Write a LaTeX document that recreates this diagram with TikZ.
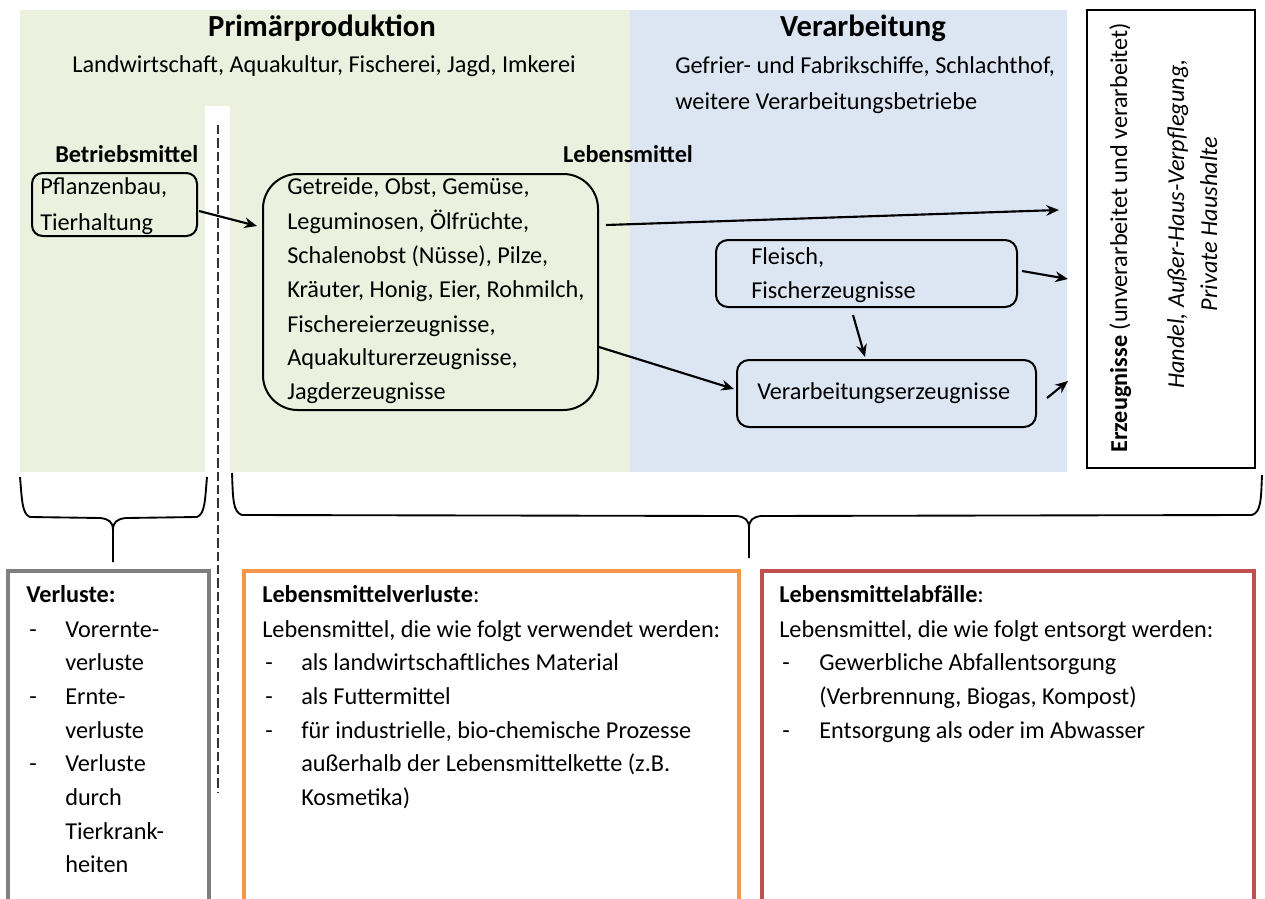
\documentclass[tikz,border=0pt]{standalone}
\usepackage{fontspec}
\setmainfont{Carlito}
\usetikzlibrary{arrows.meta,calc}
\definecolor{bggreen}{HTML}{EBF1DE}
\definecolor{bgblue}{HTML}{DCE6F2}
\definecolor{boxgray}{HTML}{7F7F7F}
\definecolor{boxorange}{HTML}{F79646}
\definecolor{boxred}{HTML}{C0504D}
\begin{document}
\begin{tikzpicture}[x=0.75pt,y=-0.75pt,
  txt/.style={anchor=base west, inner sep=0pt, font=\fontsize{18.2}{22}\selectfont},
  ctxt/.style={txt, anchor=base},
  btxt/.style={txt, font=\fontsize{18.2}{22}\selectfont\bfseries},
  head/.style={anchor=base, inner sep=0pt, font=\fontsize{23}{28}\selectfont\bfseries},
  rbox/.style={draw, line width=1.5pt, inner sep=0pt},
  arr/.style={-{Stealth[length=9.5pt,width=8pt]}, line width=1.6pt},
  brace/.style={line width=1.4pt},
  lossbox/.style={line width=2.6pt}]
\useasboundingbox (0,0) rectangle (1265,899);
% backgrounds
\fill[bggreen] (20,10) rectangle (630,472);
\fill[bgblue] (630,10) rectangle (1067,472);
\fill[white] (205,106) rectangle (230,472);
\draw[line width=0.8pt, black!80, dash pattern=on 7pt off 3pt] (218,125) -- (218,793);
% headings
\node[head] (pph) at (322,37) {Primärproduktion};
\node[ctxt] (ppt) at (324,73) {Landwirtschaft, Aquakultur, Fischerei, Jagd, Imkerei};
\node[head] (vah) at (863,37) {Verarbeitung};
\node[txt] (vat1) at (675,74) {Gefrier- und Fabrikschiffe, Schlachthof,};
\node[txt] (vat2) at (675,109) {weitere Verarbeitungsbetriebe};
\node[btxt] (bm) at (55,162) {Betriebsmittel};
\node[btxt, anchor=base] (lm) at (628,162) {Lebensmittel};
% boxes
\node[rbox, rounded corners=8pt, minimum width=123.75pt, minimum height=47.25pt] (pf) at (114.5,204.5) {};
\node[rbox, rounded corners=26pt, minimum width=251.25pt, minimum height=177pt] (big) at (430.5,292) {};
\node[rbox, rounded corners=9pt, minimum width=225.75pt, minimum height=50.25pt] (fl) at (866.5,273.5) {};
\node[rbox, rounded corners=9pt, minimum width=224.25pt, minimum height=50.25pt] (vb) at (886.5,393.5) {};
\node[draw, fill=white, line width=1.6pt, minimum width=126pt, minimum height=343.5pt, inner sep=0pt] (erz) at (1171,239) {};
% box texts
\node[txt] (pf1) at (40,195) {Pflanzenbau,};
\node[txt] (pf2) at (40,230) {Tierhaltung};
\node[txt] (bg1) at (287,195) {Getreide, Obst, Gemüse,};
\node[txt] (bg2) at (287,229) {Leguminosen, Ölfrüchte,};
\node[txt] (bg3) at (287,263) {Schalenobst (Nüsse), Pilze,};
\node[txt] (bg4) at (287,297) {Kräuter, Honig, Eier, Rohmilch,};
\node[txt] (bg5) at (287,332) {Fischereierzeugnisse,};
\node[txt] (bg6) at (287,365) {Aquakulturerzeugnisse,};
\node[txt] (bg7) at (287,399) {Jagderzeugnisse};
\node[txt] (fl1) at (751,264) {Fleisch,};
\node[txt] (fl2) at (751,298) {Fischerzeugnisse};
\node[txt] (vb1) at (757,399) {Verarbeitungserzeugnisse};
\node[txt, rotate=90] (erz1) at (1127,453) {\textbf{Erzeugnisse} (unverarbeitet und verarbeitet)};
\node[ctxt, rotate=90, font=\fontsize{18.2}{22}\selectfont\itshape] (erz2) at (1184,224) {Handel, Außer-Haus-Verpflegung,};
\node[ctxt, rotate=90, font=\fontsize{18.2}{22}\selectfont\itshape] (erz3) at (1217,224) {Private Haushalte};
% arrows
\draw[arr] ($(pf.east)+(1,6.5)$) -- ($(big.west)+(-5,-66)$);
\draw[arr] ($(big.east)+(7,-67)$) -- ($(erz.west)+(-27,-29)$);
\draw[arr] ($(fl.east)+(4,-2.5)$) -- ($(erz.west)+(-18,40)$);
\draw[arr] ($(fl.south)+(-13.5,7)$) -- ($(vb.north)+(-21.5,-2)$);
\draw[arr] ($(big.east)+(0,55)$) -- ($(vb.west)+(-2,-4.5)$);
\draw[arr] ($(vb.east)+(10,4.5)$) -- ($(erz.west)+(-18,142)$);
% braces
\draw[brace] (20,477) .. controls (22,500) and (22,514) .. (30,517) -- (100,518) .. controls (109,519) and (113,522) .. (113,530) -- (113,562);
\draw[brace] (207,477) .. controls (205,500) and (205,514) .. (197,517) -- (126,518) .. controls (117,519) and (113,522) .. (113,530);
\draw[brace] (232,473) .. controls (233,500) and (233,512) .. (242,515) -- (737,516) .. controls (745,517) and (749,520) .. (749,528) -- (749,558);
\draw[brace] (1262,475) .. controls (1261,500) and (1261,512) .. (1252,515) -- (761,516) .. controls (753,517) and (749,520) .. (749,528);
% loss boxes
\draw[lossbox, boxgray] (8,902) -- (8,571) -- (209,571) -- (209,902);
\draw[lossbox, boxorange] (244,902) -- (244,571) -- (739,571) -- (739,902);
\draw[lossbox, boxred] (762,902) -- (762,571) -- (1254,571) -- (1254,902);
% gray box text
\node[btxt] (vh) at (26,602) {Verluste:};
\node[txt] (vd1) at (29,637) {-};
\node[txt] (vi1) at (65,637) {Vorernte-};
\node[txt] (vi2) at (65,670) {verluste};
\node[txt] (vd2) at (29,704) {-};
\node[txt] (vi3) at (65,704) {Ernte-};
\node[txt] (vi4) at (65,738) {verluste};
\node[txt] (vd3) at (29,771) {-};
\node[txt] (vi5) at (65,771) {Verluste};
\node[txt] (vi6) at (65,805) {durch};
\node[txt] (vi7) at (65,839) {Tierkrank-};
\node[txt] (vi8) at (65,872) {heiten};
% orange box text
\node[txt] (oh) at (262,602) {\textbf{Lebensmittelverluste}:};
\node[txt] (o0) at (262,637) {Lebensmittel, die wie folgt verwendet werden:};
\node[txt] (od1) at (265,670) {-};
\node[txt] (o1) at (301,670) {als landwirtschaftliches Material};
\node[txt] (od2) at (265,704) {-};
\node[txt] (o2) at (301,704) {als Futtermittel};
\node[txt] (od3) at (265,738) {-};
\node[txt] (o3) at (301,738) {für industrielle, bio-chemische Prozesse};
\node[txt] (o4) at (301,771) {außerhalb der Lebensmittelkette (z.B.};
\node[txt] (o5) at (301,805) {Kosmetika)};
% red box text
\node[txt] (rh) at (779,602) {\textbf{Lebensmittelabfälle}:};
\node[txt] (r0) at (779,637) {Lebensmittel, die wie folgt entsorgt werden:};
\node[txt] (rd1) at (782,670) {-};
\node[txt] (r1) at (819,670) {Gewerbliche Abfallentsorgung};
\node[txt] (r2) at (819,704) {(Verbrennung, Biogas, Kompost)};
\node[txt] (rd2) at (782,738) {-};
\node[txt] (r3) at (819,738) {Entsorgung als oder im Abwasser};
\end{tikzpicture}
\end{document}
